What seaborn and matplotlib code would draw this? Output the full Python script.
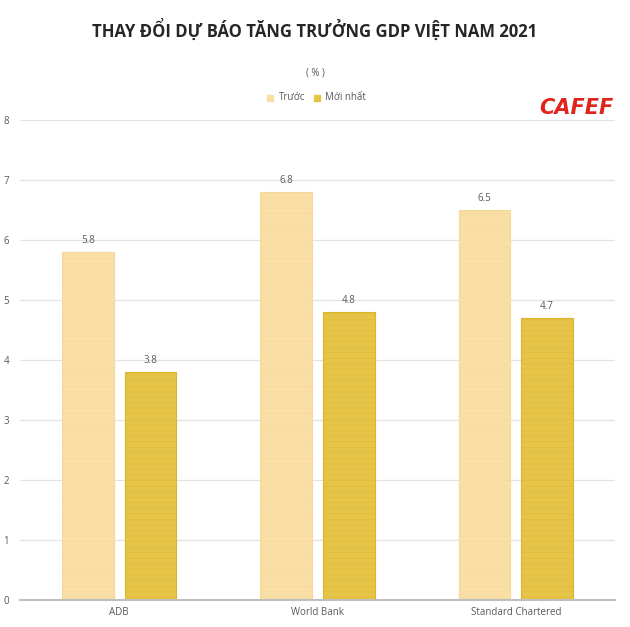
import matplotlib
matplotlib.use("Agg")
import matplotlib.pyplot as plt
import seaborn as sns
import pandas as pd

categories = ["ADB", "World Bank", "Standard Chartered"]
series_names = ["Trước", "Mới nhất"]
truoc = [5.8, 6.8, 6.5]
moi_nhat = [3.8, 4.8, 4.7]
yticks = [0, 1, 2, 3, 4, 5, 6, 7, 8]

df = pd.DataFrame({
    "org": categories * 2,
    "series": [series_names[0]] * 3 + [series_names[1]] * 3,
    "value": truoc + moi_nhat,
})

sns.set_theme(style="white")
plt.rcParams["font.family"] = ["Open Sans", "DejaVu Sans"]
plt.rcParams["hatch.linewidth"] = 0.25

fig = plt.figure(figsize=(6.3, 6.27), dpi=100)
ax = fig.add_axes([0.032, 0.043, 0.944, 0.7656])

palette = {"Trước": "#F9DFA6", "Mới nhất": "#E6C448"}
sns.barplot(data=df, x="org", y="value", hue="series", palette=palette,
            width=0.63, gap=0.17, ax=ax, legend=False, saturation=1)

edge = {"Trước": "#F6D898", "Mới nhất": "#DDB32A"}
for cont, name in zip(ax.containers, series_names):
    for p in cont:
        p.set_edgecolor(edge[name])
        p.set_linewidth(0.8)
        p.set_hatch("---")
    ax.bar_label(cont, fmt="%.1f", padding=4, fontsize=7, color="#595959")

ax.set_ylim(0, 8)
ax.set_xlim(-0.5, 2.5)
ax.set_yticks(yticks)
ax.set_yticklabels([str(t) for t in yticks], fontsize=7, color="#595959")
ax.tick_params(axis="y", length=0, pad=8)
ax.tick_params(axis="x", length=0, pad=5, labelsize=7, labelcolor="#595959")
ax.set_xlabel("")
ax.set_ylabel("")
ax.yaxis.grid(True, color="#E3E3E3", linewidth=0.9)
ax.set_axisbelow(True)
for s in ["top", "right", "left"]:
    ax.spines[s].set_visible(False)
ax.spines["bottom"].set_color("#BFBFBF")
ax.spines["bottom"].set_linewidth(1.5)

fig.text(0.5, 1 - 30 / 627, "THAY ĐỔI DỰ BÁO TĂNG TRƯỞNG GDP VIỆT NAM 2021",
         ha="center", va="center", fontsize=12, fontweight="bold", color="#262626")
fig.text(0.5, 1 - 73 / 627, "( % )", ha="center", va="center", fontsize=7, color="#595959")

# legend
ly = 1 - 98 / 627
fig.patches.append(plt.Rectangle((267 / 630, ly - 0.005), 0.009, 0.010,
                                 transform=fig.transFigure, color=palette["Trước"]))
fig.text(279 / 630, ly, "Trước", ha="left", va="center", fontsize=7, color="#595959")
fig.patches.append(plt.Rectangle((314 / 630, ly - 0.005), 0.009, 0.010,
                                 transform=fig.transFigure, color=palette["Mới nhất"]))
fig.text(325 / 630, ly, "Mới nhất", ha="left", va="center", fontsize=7, color="#595959")

fig.text(576 / 630, 1 - 108 / 627, "CAFEF", ha="center", va="center", fontsize=15,
         fontweight="heavy", fontstyle="italic", color="#E0241B",
         family=["DejaVu Sans"])

fig.savefig("out.png", dpi=100, facecolor="white")
